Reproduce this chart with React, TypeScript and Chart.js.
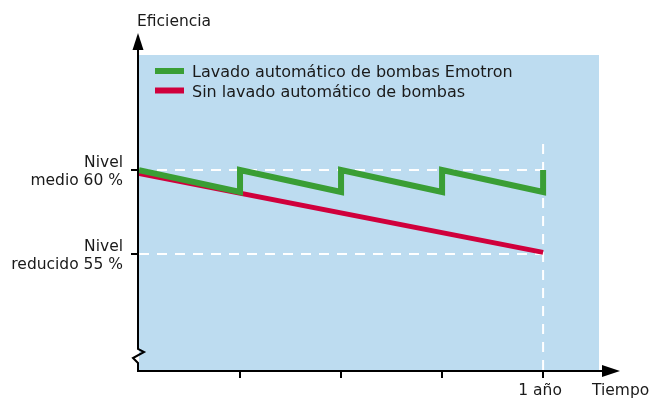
import React, { useEffect, useRef } from 'react';
import { Chart, registerables } from 'chart.js';

Chart.register(...registerables);

// ---- data ----
const greenX = [0, 3, 3, 6, 6, 9, 9, 12, 12];
const greenY = [60, 58.7, 60, 58.7, 60, 58.7, 60, 58.7, 60];
const redX = [0, 12];
const redY = [59.8, 55.1];
const seriesLabels = ['Lavado automático de bombas Emotron', 'Sin lavado automático de bombas'];
const yTickValues = [55, 60];
const yTickLabels = [['Nivel', 'reducido 55 %'], ['Nivel', 'medio 60 %']];
const xTickValues = [3, 6, 9, 12];
const xTickLabels = ['', '', '', '1 año'];
const refLevels = [60, 55];
const periodEnd = 12;
const periodMarkerTop = 61.6;
const yAxisTitle = 'Eficiencia';
const xAxisTitle = 'Tiempo';

const GREEN = '#3a9e35';
const RED = '#d0003c';
const BLUE = '#bddcf0';
const TEXT = '#1a1a1a';
const FONT = '"DejaVu Sans", sans-serif';

const Y_MIN = 48.1;
const Y_MAX = 66.85;
const X_MIN = 0;
const X_MAX = 13.66;

const toPts = (xs: number[], ys: number[]) => xs.map((x, i) => ({ x, y: ys[i] }));

const bgPlugin = {
  id: 'bgPlugin',
  beforeDraw(chart: any) {
    const { ctx, chartArea } = chart;
    ctx.save();
    ctx.fillStyle = BLUE;
    ctx.fillRect(chartArea.left, chartArea.top, chartArea.right - chartArea.left, chartArea.bottom - chartArea.top);
    ctx.restore();
  },
};

const decorPlugin = {
  id: 'decorPlugin',
  afterDraw(chart: any) {
    const { ctx, chartArea } = chart;
    const L = chartArea.left - 1;
    const B = chartArea.bottom + 1;
    ctx.save();
    ctx.strokeStyle = '#000';
    ctx.fillStyle = '#000';
    ctx.lineWidth = 2;
    ctx.lineJoin = 'miter';
    // y axis with break
    ctx.beginPath();
    ctx.moveTo(L, B + 1);
    ctx.lineTo(L, B - 8);
    ctx.lineTo(L - 5, B - 13);
    ctx.lineTo(L + 6, B - 19);
    ctx.lineTo(L, B - 22);
    ctx.lineTo(L, chartArea.top - 6);
    ctx.stroke();
    // y arrow
    ctx.beginPath();
    ctx.moveTo(L, chartArea.top - 22);
    ctx.lineTo(L - 5.5, chartArea.top - 5);
    ctx.lineTo(L + 5.5, chartArea.top - 5);
    ctx.closePath();
    ctx.fill();
    // x axis
    ctx.beginPath();
    ctx.moveTo(L - 1, B);
    ctx.lineTo(chartArea.right + 5, B);
    ctx.stroke();
    ctx.beginPath();
    ctx.moveTo(chartArea.right + 21, B);
    ctx.lineTo(chartArea.right + 3, B - 6);
    ctx.lineTo(chartArea.right + 3, B + 6);
    ctx.closePath();
    ctx.fill();
    // axis titles
    ctx.fillStyle = TEXT;
    ctx.font = '15.5px ' + FONT;
    ctx.textAlign = 'left';
    ctx.textBaseline = 'alphabetic';
    ctx.fillText(yAxisTitle, L - 1, 26);
    ctx.fillText(xAxisTitle, chartArea.right - 7, 395);
    // legend
    const items = chart.data.datasets.filter((d: any) => d.inLegend);
    ctx.font = '16px ' + FONT;
    items.forEach((d: any, i: number) => {
      const cy = chartArea.top + 16 + i * 19.5;
      ctx.fillStyle = d.borderColor;
      ctx.fillRect(chartArea.left + 16, cy - 3, 29, 6);
      ctx.fillStyle = TEXT;
      ctx.fillText(d.label, chartArea.left + 53, cy + 6);
    });
    ctx.restore();
  },
};

export default function App() {
  const ref = useRef<HTMLCanvasElement | null>(null);
  useEffect(() => {
    if (!ref.current) return;
    Chart.defaults.font.family = FONT;
    Chart.defaults.color = TEXT;
    const dashed = {
      borderColor: '#ffffff',
      borderWidth: 2,
      borderDash: [10, 8],
      pointRadius: 0,
      tension: 0,
      fill: false,
    };
    const chart = new Chart(ref.current, {
      type: 'line',
      data: {
        datasets: [
          {
            label: seriesLabels[0],
            data: toPts(greenX, greenY),
            borderColor: GREEN,
            backgroundColor: GREEN,
            borderWidth: 6,
            borderJoinStyle: 'miter',
            borderCapStyle: 'butt',
            pointRadius: 0,
            tension: 0,
            order: 0,
            inLegend: true,
          } as any,
          {
            label: seriesLabels[1],
            data: toPts(redX, redY),
            borderColor: RED,
            backgroundColor: RED,
            borderWidth: 5,
            borderCapStyle: 'butt',
            pointRadius: 0,
            tension: 0,
            order: 1,
            inLegend: true,
          } as any,
          { label: 'ref0', data: [{ x: 0, y: refLevels[0] }, { x: periodEnd, y: refLevels[0] }], order: 2, ...dashed } as any,
          { label: 'ref1', data: [{ x: 0, y: refLevels[1] }, { x: periodEnd, y: refLevels[1] }], order: 3, ...dashed } as any,
          { label: 'end', data: [{ x: periodEnd, y: Y_MIN }, { x: periodEnd, y: periodMarkerTop }], order: 4, ...dashed } as any,
        ],
      },
      options: {
        animation: false,
        responsive: true,
        maintainAspectRatio: false,
        layout: { padding: { left: 0, top: 55, right: 52, bottom: 0 } },
        plugins: { legend: { display: false }, tooltip: { enabled: false } },
        scales: {
          x: {
            type: 'linear',
            min: X_MIN,
            max: X_MAX,
            afterBuildTicks: (s: any) => {
              s.ticks = xTickValues.map((v) => ({ value: v }));
            },
            afterFit: (s: any) => {
              s.height = 31;
            },
            grid: { drawOnChartArea: false, drawTicks: true, tickLength: 8, color: '#000', lineWidth: 2 },
            border: { display: false },
            ticks: {
              autoSkip: false,
              maxRotation: 0,
              padding: 4,
              labelOffset: -3,
              color: TEXT,
              font: { size: 15.5, family: FONT },
              callback: (v: any) => {
                const i = xTickValues.indexOf(Number(v));
                return i >= 0 ? xTickLabels[i] : '';
              },
            },
          },
          y: {
            type: 'linear',
            min: Y_MIN,
            max: Y_MAX,
            afterBuildTicks: (s: any) => {
              s.ticks = yTickValues.map((v) => ({ value: v }));
            },
            afterFit: (s: any) => {
              s.width = 139;
            },
            grid: { drawOnChartArea: false, drawTicks: true, tickLength: 8, color: '#000', lineWidth: 2 },
            border: { display: false },
            ticks: {
              autoSkip: false,
              padding: 8,
              labelOffset: 2,
              color: TEXT,
              font: { size: 15.5, family: FONT, lineHeight: 1.15 },
              callback: (v: any) => {
                const i = yTickValues.indexOf(Number(v));
                return i >= 0 ? yTickLabels[i] : '';
              },
            },
          },
        },
      } as any,
      plugins: [bgPlugin, decorPlugin],
    });
    return () => chart.destroy();
  }, []);
  return (
    <div style={{ position: 'absolute', left: 0, top: 0, width: 651, height: 401 }}>
      <canvas ref={ref} />
    </div>
  );
}
